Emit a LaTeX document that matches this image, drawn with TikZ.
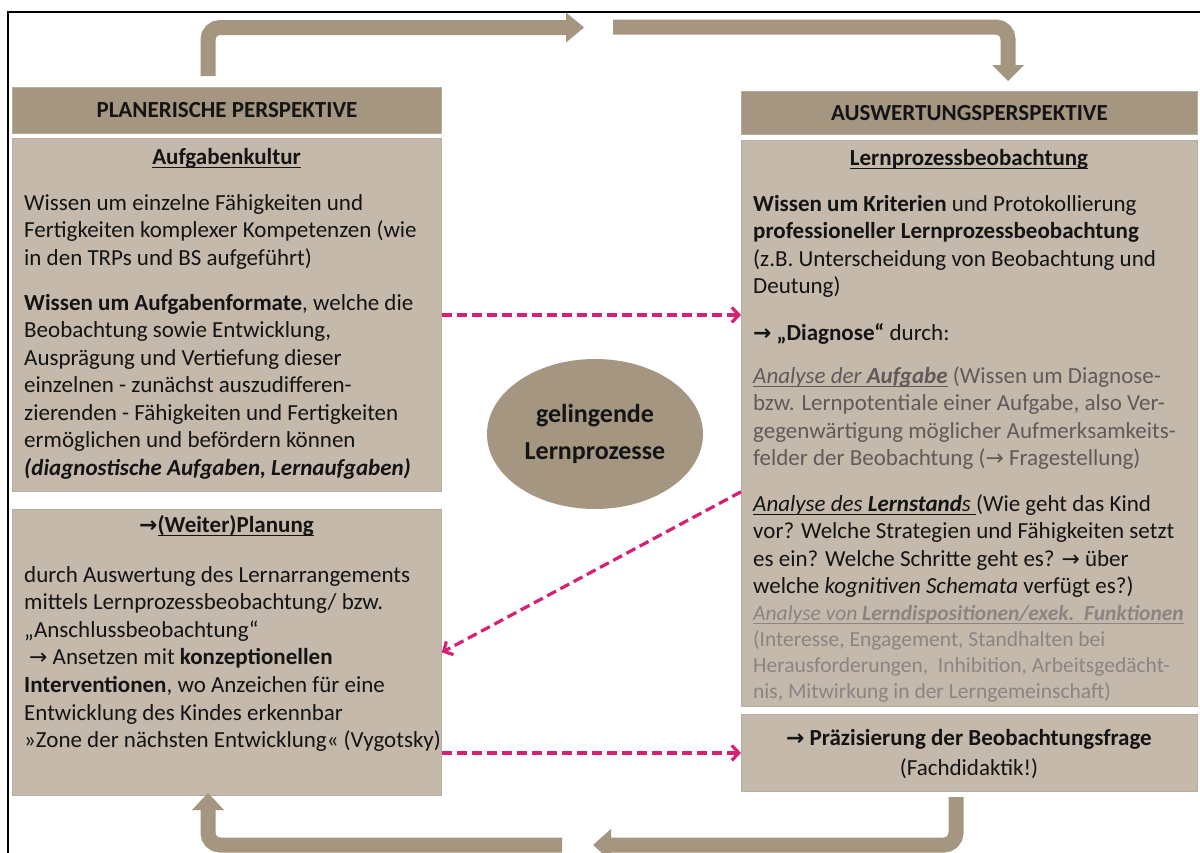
\documentclass[tikz,border=0pt]{standalone}
\usepackage{fontspec}
\setmainfont{Carlito}
\newfontfamily\arrowfont[Scale=0.95]{DejaVu Sans}
\usetikzlibrary{shapes.geometric,arrows.meta}
\definecolor{hdrc}{RGB}{165,150,129}
\definecolor{boxc}{RGB}{196,185,171}
\definecolor{edgec}{RGB}{182,172,160}
\definecolor{txtc}{RGB}{20,20,20}
\definecolor{grayA}{RGB}{98,90,90}
\definecolor{grayB}{RGB}{142,131,131}
\definecolor{pinkc}{RGB}{214,32,116}
\newcommand\rarr{{\arrowfont →}}
\newcommand\myul[1]{\setbox0\hbox{#1}\rlap{\rule[-4.2pt]{\wd0}{1.5pt}}\box0\relax}
\newcommand\Ltxt[5][]{\node[txt,#1] (#2) at (#3,#4) {#5};}
\tikzset{
  txt/.style={anchor=base west, inner sep=0pt, font=\fontsize{23}{28}\selectfont, text=txtc},
  ctxt/.style={txt, anchor=base},
  small/.style={font=\fontsize{21.5}{26}\selectfont},
  panel/.style={rectangle, draw=edgec, line width=0.8pt, fill=boxc, inner sep=0pt, anchor=north west},
  header/.style={panel, fill=hdrc, font=\bfseries\fontsize{23}{27}\selectfont, text=txtc},
  bigarrow/.style={draw=hdrc, line width=15pt, rounded corners=12pt},
  headfill/.style={fill=hdrc},
  dasharrow/.style={draw=pinkc, line width=3.2pt, dash pattern=on 10pt off 5pt, -{Straight Barb[length=7pt,width=15pt]}}
}
\begin{document}
\begin{tikzpicture}[x=1pt,y=-1pt]
\useasboundingbox (0,0) rectangle (1200,852);
\clip (0,0) rectangle (1200,852);
\fill[white] (0,0) rectangle (1200,852);
% frame
\draw[black, line width=2pt] (8,853) -- (8,12) -- (1201,12);

% headers and panels
\node[header, minimum width=429pt, minimum height=46pt] (hl) at (12,87) {PLANERISCHE PERSPEKTIVE};
\node[panel, minimum width=429pt, minimum height=353pt] (lb1) at (12,138) {};
\node[panel, minimum width=429pt, minimum height=286pt] (lb2) at (12,509) {};
\node[header, minimum width=456pt, minimum height=43pt] (hr) at (741,91) {AUSWERTUNGSPERSPEKTIVE};
\node[panel, minimum width=456pt, minimum height=566pt] (rb) at (741,140) {};
\node[panel, minimum width=456pt, minimum height=77pt] (pz) at (741,714) {};

% central ellipse
\node[ellipse, fill=hdrc, minimum width=216pt, minimum height=150pt, inner sep=0pt, align=center,
      font=\bfseries\fontsize{26}{37}\selectfont, text=txtc] (core) at (595,434) {gelingende\\Lernprozesse};

% big cycle arrows
\coordinate (a1s) at (208,76);  \coordinate (a1e) at (566,27.5);
\draw[bigarrow] (a1s) |- (a1e);
\fill[headfill] (566,12.5) -- (584,27.5) -- (566,42.5) -- cycle;
\coordinate (a2s) at (613,27);  \coordinate (a2e) at (1008,65);
\draw[bigarrow] (a2s) -| (a2e);
\fill[headfill] (992,65) -- (1024,65) -- (1008,81) -- cycle;
\coordinate (a3s) at (956,797); \coordinate (a3e) at (611,845);
\draw[bigarrow] (a3s) |- (a3e);
\fill[headfill] (611,829) -- (611,861) -- (593,845) -- cycle;
\coordinate (a4s) at (562,845); \coordinate (a4e) at (208,810);
\draw[bigarrow] (a4s) -| (a4e);
\fill[headfill] (192,810) -- (224,810) -- (208,793) -- cycle;

% dashed connectors
\draw[dasharrow] (lb1.east) -- (rb.west |- lb1.east);
\draw[dasharrow] (rb.west |- lb1.south) -- (lb2.east);
\draw[dasharrow] (pz.west -| lb2.east) -- (pz.west);

% left panel 1
\Ltxt[ctxt,font=\bfseries\fontsize{23}{28}\selectfont]{t1}{226.5}{164}{\myul{Aufgabenkultur}}
\Ltxt{t2}{24}{210}{Wissen um einzelne Fähigkeiten und}
\Ltxt{t3}{24}{237.5}{Fertigkeiten komplexer Kompetenzen (wie}
\Ltxt{t4}{24}{265}{in den TRPs und BS aufgeführt)}
\Ltxt{t5}{24}{310}{\textbf{Wissen um Aufgabenformate}, welche die}
\Ltxt{t6}{24}{337.5}{Beobachtung sowie Entwicklung,}
\Ltxt{t7}{24}{365}{Ausprägung und Vertiefung dieser}
\Ltxt{t8}{24}{392.5}{einzelnen - zunächst auszudifferen-}
\Ltxt{t9}{24}{420}{zierenden - Fähigkeiten und Fertigkeiten}
\Ltxt{t10}{24}{447.5}{ermöglichen und befördern können}
\Ltxt{t11}{24}{475}{\textbf{\textit{(diagnostische Aufgaben, Lernaufgaben)}}}

% left panel 2
\Ltxt[ctxt,font=\bfseries\fontsize{23}{28}\selectfont]{u1}{226.5}{532}{\rarr\myul{(Weiter)Planung}}
\Ltxt{u2}{24}{582}{durch Auswertung des Lernarrangements}
\Ltxt{u3}{24}{609.6}{mittels Lernprozessbeobachtung/ bzw.}
\Ltxt{u4}{24}{637.2}{„Anschlussbeobachtung“}
\Ltxt{u5}{29}{664.8}{\rarr\ Ansetzen mit \textbf{konzeptionellen}}
\Ltxt{u6}{24}{692.4}{\textbf{Interventionen}, wo Anzeichen für eine}
\Ltxt{u7}{24}{720}{Entwicklung des Kindes erkennbar}
\Ltxt{u8}{24}{747.6}{»Zone der nächsten Entwicklung« (Vygotsky)}

% right panel
\Ltxt[ctxt,font=\bfseries\fontsize{23}{28}\selectfont]{r1}{969}{165}{\myul{Lernprozessbeobachtung}}
\Ltxt{r2}{753}{211}{\textbf{Wissen um Kriterien} und Protokollierung}
\Ltxt{r3}{753}{238.5}{\textbf{professioneller Lernprozessbeobachtung}}
\Ltxt{r4}{753}{266}{(z.B. Unterscheidung von Beobachtung und}
\Ltxt{r5}{753}{293.5}{Deutung)}
\Ltxt{r6}{753}{340}{\textbf{\rarr\ „Diagnose“} durch:}
\Ltxt[text=grayA]{r7}{753}{383}{\myul{\textit{Analyse der \textbf{Aufgabe}}} (Wissen um Diagnose-}
\Ltxt[text=grayA]{r8}{753}{410.5}{bzw. Lernpotentiale einer Aufgabe, also Ver-}
\Ltxt[text=grayA]{r9}{753}{438}{gegenwärtigung möglicher Aufmerksamkeits-}
\Ltxt[text=grayA]{r10}{753}{465.5}{felder der Beobachtung (\rarr\ Fragestellung)}
\Ltxt{r11}{753}{511}{\myul{\textit{Analyse des \textbf{Lernstand}s }}(Wie geht das Kind}
\Ltxt{r12}{753}{538.5}{vor? Welche Strategien und Fähigkeiten setzt}
\Ltxt{r13}{753}{566}{es ein? Welche Schritte geht es? \rarr\ über}
\Ltxt{r14}{753}{593.5}{welche \textit{kognitiven Schemata} verfügt es?)}
\Ltxt[small,text=grayB]{r15}{753}{620}{\myul{\textit{Analyse von \textbf{Lerndispositionen/exek.\ \ Funktionen}}}}
\Ltxt[small,text=grayB]{r16}{753}{646}{(Interesse, Engagement, Standhalten bei}
\Ltxt[small,text=grayB]{r17}{753}{672}{Herausforderungen,\ \ Inhibition, Arbeitsgedächt-}
\Ltxt[small,text=grayB]{r18}{753}{698}{nis, Mitwirkung in der Lerngemeinschaft)}

% Praezisierung
\Ltxt[ctxt,font=\bfseries\fontsize{23}{28}\selectfont]{p1}{969}{745}{\rarr\ Präzisierung der Beobachtungsfrage}
\Ltxt[ctxt]{p2}{969}{775}{(Fachdidaktik!)}
\end{tikzpicture}
\end{document}
